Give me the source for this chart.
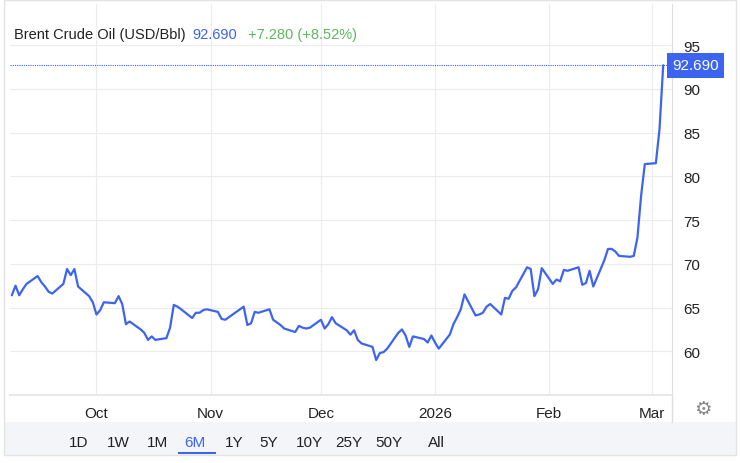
import numpy as np, pandas as pd, seaborn as sns, matplotlib.pyplot as plt
import matplotlib.dates as mdates
from matplotlib.patches import Rectangle

prices = [66.4,67.5,66.4,67.1,67.7,68.6,67.9,67.4,66.8,66.6,67.7,69.4,68.7,69.4,67.4,66.3,65.6,64.2,64.7,65.6,
65.5,66.3,65.4,63.1,63.4,62.5,62.1,61.3,61.7,61.3,61.5,62.7,65.3,65.1,64.8,63.8,64.4,64.4,64.7,64.8,
64.5,63.7,63.6,63.9,64.2,65.1,63.0,63.2,64.5,64.4,64.8,63.6,63.3,63.0,62.6,62.2,62.9,62.7,62.6,62.7,
63.6,62.6,63.1,63.9,63.2,62.4,61.9,62.4,61.3,60.9,60.5,59.0,59.8,59.9,60.3,62.1,62.5,61.8,60.5,61.7,
61.4,61.0,61.8,61.0,60.3,61.9,63.1,63.9,64.8,66.5,64.1,64.2,64.4,65.1,65.4,64.2,66.1,66.0,66.9,67.3,
69.6,69.4,66.3,67.1,69.5,67.7,68.2,68.0,69.3,69.2,69.6,67.6,67.8,69.2,67.4,70.4,71.7,71.7,71.4,70.9,
70.8,70.9,73.0,77.8,81.4,81.5,85.4,92.69]
dates = pd.bdate_range("2025-09-08", periods=len(prices))
df = pd.DataFrame({"date": dates, "price": prices})
month_ticks = ["2025-10-01","2025-11-01","2025-12-01","2026-01-01","2026-02-01","2026-03-01"]
month_labels = ["Oct","Nov","Dec","2026","Feb","Mar"]
yticks = [60,65,70,75,80,85,90,95]
ranges = ["1D","1W","1M","6M","1Y","5Y","10Y","25Y","50Y","All"]

sns.set_style("white")
plt.rcParams['font.family'] = ['Liberation Sans','DejaVu Sans']
W,H = 740,464
fig = plt.figure(figsize=(7.4,4.64), dpi=100)
ax = fig.add_axes([10/W, 1-396/H, 662/W, 391/H])
blue = "#3c64f0"
sns.lineplot(data=df, x="date", y="price", ax=ax, color=blue, lw=1.6)
start = pd.Timestamp("2025-09-08") - pd.Timedelta(days=0.5)
ax.set_xlim(start, start + pd.Timedelta(days=662/3.68))
ax.set_ylim(55, 99.7)
ax.set_xticks(pd.to_datetime(month_ticks))
ax.set_xticklabels(month_labels)
ax.set_yticks(yticks)
ax.yaxis.tick_right()
ax.tick_params(axis='y', labelsize=11, length=0, pad=8, colors="#222")
ax.tick_params(axis='x', labelsize=11, length=0, pad=8, colors="#222")
ax.set_xlabel(""); ax.set_ylabel("")
ax.grid(True, color="#ececec", lw=0.8)
for s in ["top","left"]: ax.spines[s].set_visible(False)
ax.spines["right"].set_color("#dddddd")
ax.spines["bottom"].set_color("#e8e8e8"); ax.spines["bottom"].set_linewidth(1.5)
ax.axhline(prices[-1], color=blue, lw=0.8, ls=(0,(1,1)))
ax.text(1.0, prices[-1], f"{prices[-1]:.3f}", transform=ax.get_yaxis_transform(),
        ha="left", va="center", color="white", fontsize=11,
        bbox=dict(boxstyle="square,pad=0.35", fc=blue, ec="none"), clip_on=False)
# header
fig.text(14/W, 1-35/H, "Brent Crude Oil (USD/Bbl)", fontsize=10.5, color="#222", va="center")
fig.text(192/W, 1-35/H, "92.690", fontsize=10.5, color=blue, va="center")
fig.text(248/W, 1-35/H, "+7.280 (+8.52%)", fontsize=10.5, color="#5cb85c", va="center")
# bottom bar
fig.patches.append(Rectangle((4/W, 1-456/H), 732/W, 33/H, transform=fig.transFigure, fc="#f3f5f8", ec="none"))
fig.patches.append(Rectangle((4/W, 1-456/H), 732/W, 455/H, transform=fig.transFigure, fc="none", ec="#e3e3e3", lw=1))
xs = [79,118,157,195,234,269,309,349,389,436]
for x, r in zip(xs, ranges):
    fig.text(x/W, 1-443/H, r, fontsize=11, ha="center", va="center", color=blue if r=="6M" else "#222")
fig.patches.append(Rectangle((178/W, 1-455/H), 38/W, 2.5/H, transform=fig.transFigure, fc=blue, ec="none"))
fig.lines.append(plt.Line2D([672/W,672/W],[1-396/H,1-423/H], transform=fig.transFigure, color="#dddddd", lw=1))
fig.text(703/W, 1-410/H, "⚙", fontsize=14, ha="center", va="center", color="#888", family="DejaVu Sans")
fig.savefig("out.png", dpi=100)
